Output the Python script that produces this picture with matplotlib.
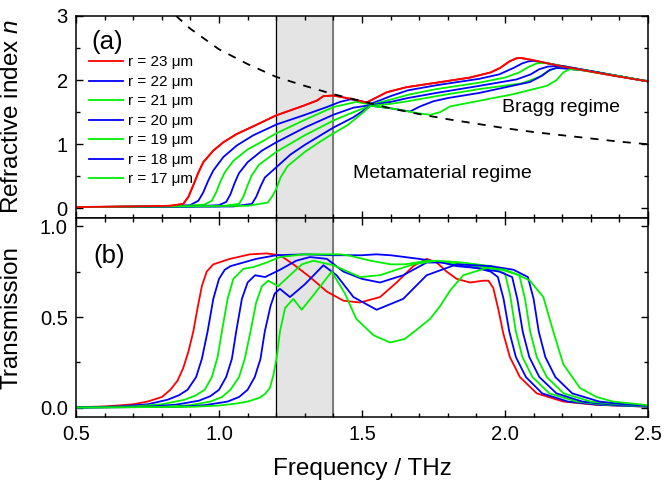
import matplotlib
matplotlib.use("Agg")
import matplotlib.pyplot as plt
from matplotlib.ticker import MultipleLocator

plt.rcParams['font.family'] = ['Liberation Sans', 'DejaVu Sans']
plt.rcParams['mathtext.fontset'] = 'custom'
plt.rcParams['mathtext.it'] = 'Liberation Sans:italic'
plt.rcParams['mathtext.rm'] = 'Liberation Sans'

# rayons (µm)
radii = [23, 22, 21, 20, 19, 18, 17]

# ---- (a) indice de réfraction ----
f_n23 = [0.5, 0.7, 0.83, 0.875, 0.893, 0.91, 0.928, 0.945, 0.98, 1.015, 1.062, 1.12, 1.2, 1.295, 1.342, 1.365,
         1.40, 1.458, 1.516, 1.551, 1.586, 1.656, 1.761, 1.878, 1.95, 1.983, 2.015, 2.04, 2.055, 2.087, 2.204, 2.378, 2.5]
n23 = [0.02, 0.03, 0.04, 0.07, 0.18, 0.36, 0.56, 0.72, 0.90, 1.03, 1.16, 1.28, 1.45, 1.60, 1.68, 1.75,
       1.76, 1.71, 1.65, 1.73, 1.81, 1.89, 1.96, 2.04, 2.12, 2.19, 2.29, 2.34, 2.345, 2.32, 2.21, 2.07, 1.98]

f_n22 = [0.5, 0.8, 0.899, 0.928, 0.945, 0.963, 0.98, 1.015, 1.062, 1.12, 1.202, 1.295, 1.377, 1.423, 1.46, 1.49,
         1.53, 1.56, 1.6, 1.66, 1.76, 1.91, 1.98, 2.03, 2.06, 2.08, 2.1, 2.2, 2.3, 2.4, 2.5]
n22 = [0.02, 0.03, 0.05, 0.12, 0.25, 0.44, 0.59, 0.80, 0.98, 1.14, 1.31, 1.45, 1.58, 1.66, 1.70, 1.68,
       1.63, 1.68, 1.75, 1.84, 1.92, 2.02, 2.09, 2.19, 2.26, 2.29, 2.30, 2.22, 2.14, 2.06, 1.98]

f_n21 = [0.5, 0.85, 0.95, 0.975, 0.99, 1.005, 1.02, 1.05, 1.1, 1.15, 1.2, 1.3, 1.4, 1.48, 1.53, 1.57, 1.62, 1.66,
         1.76, 1.91, 2.0, 2.05, 2.08, 2.11, 2.14, 2.2, 2.3, 2.4, 2.5]
n21 = [0.02, 0.03, 0.06, 0.12, 0.25, 0.42, 0.56, 0.74, 0.92, 1.04, 1.17, 1.38, 1.58, 1.66, 1.62, 1.66, 1.72, 1.77,
       1.86, 1.96, 2.04, 2.12, 2.20, 2.26, 2.27, 2.22, 2.14, 2.06, 1.98]

f_n20 = [0.5, 0.9, 1.0, 1.025, 1.04, 1.055, 1.07, 1.1, 1.15, 1.2, 1.3, 1.4, 1.47, 1.53, 1.6, 1.66, 1.76, 1.91,
         2.04, 2.09, 2.12, 2.15, 2.18, 2.2, 2.3, 2.4, 2.5]
n20 = [0.02, 0.03, 0.05, 0.10, 0.22, 0.40, 0.55, 0.72, 0.90, 1.03, 1.26, 1.46, 1.57, 1.61, 1.66, 1.72, 1.80, 1.91,
       2.01, 2.09, 2.17, 2.21, 2.22, 2.22, 2.14, 2.06, 1.98]

f_n19 = [0.5, 1.0, 1.07, 1.085, 1.1, 1.115, 1.14, 1.2, 1.3, 1.4, 1.47, 1.53, 1.6, 1.66, 1.76, 1.91, 2.06, 2.12,
         2.15, 2.18, 2.21, 2.3, 2.4, 2.5]
n19 = [0.02, 0.03, 0.07, 0.18, 0.36, 0.52, 0.68, 0.88, 1.14, 1.37, 1.50, 1.60, 1.63, 1.67, 1.75, 1.86, 1.95, 2.05,
       2.14, 2.19, 2.19, 2.14, 2.06, 1.98]

f_n18 = [0.5, 1.05, 1.115, 1.13, 1.145, 1.16, 1.2, 1.25, 1.3, 1.4, 1.47, 1.53, 1.6, 1.668, 1.703, 1.75, 1.8, 1.91,
         2.087, 2.13, 2.157, 2.18, 2.21, 2.3, 2.4, 2.5]
n18 = [0.02, 0.03, 0.07, 0.18, 0.34, 0.48, 0.64, 0.84, 0.99, 1.26, 1.42, 1.60, 1.56, 1.51, 1.59, 1.67, 1.72, 1.80,
       1.97, 2.07, 2.16, 2.19, 2.18, 2.14, 2.06, 1.98]

f_n17 = [0.5, 1.1, 1.17, 1.185, 1.2, 1.215, 1.24, 1.3, 1.35, 1.4, 1.45, 1.5, 1.53, 1.6, 1.7, 1.738, 1.773, 1.808,
         1.913, 2.028, 2.146, 2.18, 2.204, 2.227, 2.26, 2.3, 2.4, 2.5]
n17 = [0.02, 0.04, 0.09, 0.18, 0.30, 0.48, 0.66, 0.88, 1.03, 1.17, 1.30, 1.48, 1.60, 1.56, 1.48, 1.46, 1.50, 1.59,
       1.68, 1.78, 1.91, 2.00, 2.12, 2.17, 2.16, 2.13, 2.06, 1.98]

# ligne de Bragg (pointillés)
f_bragg = [0.85, 0.9, 1.0, 1.1, 1.2, 1.3, 1.4, 1.5, 1.6, 1.7, 1.8, 1.9, 2.0, 2.1, 2.2, 2.3, 2.4, 2.5]
n_bragg = [3.0, 2.8, 2.48, 2.25, 2.05, 1.91, 1.78, 1.67, 1.56, 1.47, 1.39, 1.32, 1.25, 1.19, 1.14, 1.09, 1.04, 1.0]

# ---- (b) transmission ----
f_t23 = [0.5, 0.6, 0.7, 0.75, 0.8, 0.83, 0.855, 0.875, 0.893, 0.91, 0.925, 0.94, 0.957, 0.98, 1.038, 1.108, 1.167,
         1.213, 1.26, 1.318, 1.377, 1.435, 1.493, 1.563, 1.621, 1.679, 1.726, 1.761, 1.796, 1.831, 1.878, 1.924,
         1.942, 1.959, 1.977, 1.994, 2.017, 2.052, 2.111, 2.204, 2.32, 2.5]
t23 = [0.004, 0.008, 0.02, 0.035, 0.06, 0.10, 0.15, 0.22, 0.31, 0.42, 0.55, 0.67, 0.75, 0.79, 0.82, 0.845, 0.85,
       0.84, 0.79, 0.72, 0.64, 0.59, 0.58, 0.61, 0.69, 0.78, 0.82, 0.80, 0.75, 0.71, 0.69, 0.70,
       0.70, 0.66, 0.54, 0.41, 0.28, 0.17, 0.08, 0.035, 0.017, 0.007]

f_t22 = [0.5, 0.65, 0.75, 0.82, 0.86, 0.89, 0.92, 0.94, 0.96, 0.98, 1.0, 1.02, 1.04, 1.13, 1.2, 1.3, 1.4, 1.5,
         1.55, 1.6, 1.7, 1.78, 1.85, 1.9, 1.95, 1.975, 1.995, 2.015, 2.038, 2.073, 2.13, 2.22, 2.33, 2.5]
t22 = [0.003, 0.008, 0.02, 0.045, 0.07, 0.10, 0.17, 0.27, 0.42, 0.60, 0.71, 0.76, 0.78, 0.82, 0.84, 0.845, 0.84, 0.84,
       0.845, 0.84, 0.82, 0.80, 0.785, 0.77, 0.75, 0.72, 0.60, 0.42, 0.28, 0.17, 0.08, 0.035, 0.017, 0.007]

f_t21 = [0.5, 0.7, 0.8, 0.88, 0.92, 0.95, 0.975, 0.995, 1.01, 1.03, 1.05, 1.085, 1.12, 1.167, 1.213, 1.295, 1.423,
         1.45, 1.53, 1.6, 1.65, 1.73, 1.8, 1.9, 1.95, 2.0, 2.018, 2.038, 2.061, 2.096, 2.155, 2.25, 2.36, 2.5]
t21 = [0.003, 0.008, 0.02, 0.045, 0.07, 0.10, 0.17, 0.28, 0.42, 0.60, 0.71, 0.765, 0.775, 0.80, 0.83, 0.845, 0.845,
       0.84, 0.81, 0.79, 0.79, 0.81, 0.80, 0.78, 0.77, 0.74, 0.62, 0.42, 0.28, 0.17, 0.08, 0.035, 0.017, 0.008]

f_t20 = [0.5, 0.75, 0.85, 0.93, 0.97, 1.0, 1.025, 1.045, 1.06, 1.08, 1.1, 1.126, 1.161, 1.213, 1.27, 1.318, 1.377,
         1.435, 1.5, 1.563, 1.644, 1.726, 1.78, 1.831, 1.9, 1.98, 2.025, 2.043, 2.062, 2.085, 2.12, 2.18, 2.27,
         2.38, 2.5]
t20 = [0.002, 0.007, 0.018, 0.04, 0.065, 0.10, 0.17, 0.27, 0.42, 0.60, 0.69, 0.73, 0.72, 0.76, 0.81, 0.83, 0.82,
       0.75, 0.71, 0.69, 0.73, 0.80, 0.80, 0.78, 0.77, 0.75, 0.72, 0.60, 0.42, 0.28, 0.17, 0.08, 0.035,
       0.017, 0.009]

f_t19 = [0.5, 0.8, 0.9, 0.97, 1.01, 1.04, 1.07, 1.09, 1.11, 1.13, 1.15, 1.172, 1.207, 1.248, 1.29, 1.33, 1.40,
         1.45, 1.493, 1.563, 1.62, 1.679, 1.761, 1.85, 1.95, 2.05, 2.07, 2.088, 2.111, 2.146, 2.205, 2.3, 2.4, 2.5]
t19 = [0.002, 0.006, 0.015, 0.035, 0.06, 0.10, 0.17, 0.27, 0.42, 0.58, 0.67, 0.70, 0.67, 0.73, 0.79, 0.81, 0.785,
       0.75, 0.72, 0.73, 0.76, 0.79, 0.81, 0.80, 0.78, 0.73, 0.60, 0.42, 0.28, 0.17, 0.08, 0.035, 0.02, 0.01]

f_t18 = [0.5, 0.85, 0.95, 1.03, 1.07, 1.1, 1.125, 1.145, 1.16, 1.18, 1.195, 1.213, 1.248, 1.3, 1.365, 1.411, 1.47,
         1.551, 1.644, 1.726, 1.831, 1.95, 2.03, 2.08, 2.1, 2.118, 2.141, 2.176, 2.235, 2.33, 2.42, 2.5]
t18 = [0.002, 0.006, 0.015, 0.035, 0.06, 0.10, 0.17, 0.27, 0.42, 0.56, 0.63, 0.655, 0.61, 0.68, 0.785, 0.73, 0.61,
       0.54, 0.60, 0.73, 0.79, 0.78, 0.76, 0.72, 0.60, 0.42, 0.28, 0.17, 0.08, 0.035, 0.02, 0.012]

f_t17 = [0.5, 0.9, 1.0, 1.06, 1.1, 1.14, 1.16, 1.178, 1.19, 1.202, 1.213, 1.231, 1.26, 1.289, 1.33, 1.394, 1.44,
         1.48, 1.54, 1.598, 1.65, 1.691, 1.738, 1.773, 1.81, 1.854, 1.936, 2.0, 2.05, 2.087, 2.134, 2.169, 2.204,
         2.262, 2.32, 2.378, 2.5]
t17 = [0.002, 0.006, 0.013, 0.024, 0.035, 0.055, 0.075, 0.11, 0.18, 0.28, 0.42, 0.55, 0.60, 0.54, 0.62, 0.75, 0.63,
       0.49, 0.40, 0.36, 0.38, 0.43, 0.49, 0.56, 0.65, 0.73, 0.77, 0.76, 0.73, 0.70, 0.61, 0.42, 0.24,
       0.11, 0.06, 0.035, 0.015]

f_n = [f_n23, f_n22, f_n21, f_n20, f_n19, f_n18, f_n17]
n_all = [n23, n22, n21, n20, n19, n18, n17]
f_t = [f_t23, f_t22, f_t21, f_t20, f_t19, f_t18, f_t17]
t_all = [t23, t22, t21, t20, t19, t18, t17]
couleurs = ['#ff0000', '#0000ff', '#00f000', '#0000ff', '#00f000', '#0000ff', '#00f000']

fig = plt.figure(figsize=(6.64, 4.87), dpi=100)
ax1 = fig.add_axes([0.1145, 0.5524, 0.8614, 0.4148])
ax2 = fig.add_axes([0.1145, 0.1437, 0.8614, 0.4087])

for ax in (ax1, ax2):
    ax.axvspan(1.2, 1.4, color='#e4e4e4', zorder=0)
    ax.axvline(1.2, color='black', lw=0.9, zorder=1)
    ax.axvline(1.4, color='#707070', lw=1.3, zorder=1)

# (a)
ax1.plot(f_bragg, n_bragg, color='black', lw=1.3, dashes=(4.5, 4.5), zorder=3)
for f, n, c, r in zip(f_n, n_all, couleurs, radii):
    ax1.plot(f, n, color=c, lw=1.3, label="r = %d μm" % r, zorder=2)
ax1.plot(f_n23, n23, color='#ff0000', lw=1.3, zorder=2.5)

# (b)
for f, t, c in zip(f_t, t_all, couleurs):
    ax2.plot(f, t, color=c, lw=1.3, zorder=2)

ax1.set_xlim(0.5, 2.5)
ax2.set_xlim(0.5, 2.5)
ax1.set_ylim(-0.15, 3.0)
ax2.set_ylim(-0.05, 1.045)

ax1.yaxis.set_major_locator(MultipleLocator(1))
ax1.yaxis.set_minor_locator(MultipleLocator(0.5))
ax2.yaxis.set_major_locator(MultipleLocator(0.5))
ax2.yaxis.set_minor_locator(MultipleLocator(0.25))
for ax in (ax1, ax2):
    ax.xaxis.set_major_locator(MultipleLocator(0.5))
    ax.xaxis.set_minor_locator(MultipleLocator(0.1))
    ax.tick_params(which='both', direction='in', top=True, right=True, labelsize=14.5, pad=6)
    ax.tick_params(which='major', length=5, width=1)
    ax.tick_params(which='minor', length=3, width=1)
    for s in ax.spines.values():
        s.set_linewidth(1.1)
ax1.tick_params(labelbottom=False)

ax1.set_ylabel("Refractive index $n$", fontsize=17.5)
ax2.set_ylabel("Transmission", fontsize=17.5)
ax2.set_xlabel("Frequency / THz", fontsize=17.5, labelpad=10)
ax1.yaxis.set_label_coords(-0.093, 0.5)
ax2.yaxis.set_label_coords(-0.093, 0.5)

ax1.text(0.555, 2.48, "(a)", fontsize=18.5)
ax2.text(0.56, 0.80, "(b)", fontsize=18.5)
ax1.text(1.99, 1.50, "Bragg regime", fontsize=14)
ax1.text(1.469, 0.47, "Metamaterial regime", fontsize=14)

ax1.legend(loc='upper left', bbox_to_anchor=(0.023, 0.805), frameon=False, fontsize=11,
           borderpad=0, borderaxespad=0, handlelength=2.2, handletextpad=0.35, labelspacing=0.36)

fig.savefig("out.png", dpi=100)
